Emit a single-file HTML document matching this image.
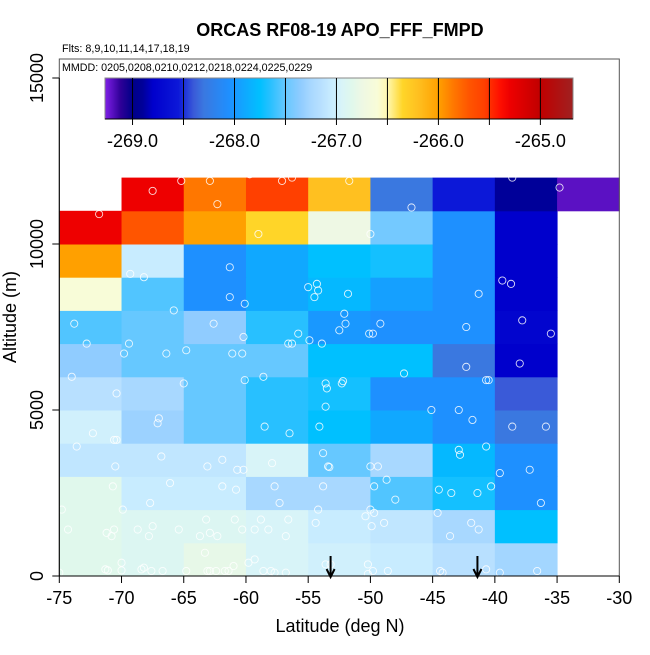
<!DOCTYPE html>
<html><head><meta charset="utf-8"><style>
html,body{margin:0;padding:0;background:#fff}
svg text{font-family:"Liberation Sans",Arial,sans-serif;fill:#000}
</style></head><body>
<svg id="chart" width="650" height="650" viewBox="0 0 650 650"></svg>
<script>
// ---- data ----
const latEdges = [-75,-70,-65,-60,-55,-50,-45,-40,-35,-30];
const altEdges = [0,1000,2000,3000,4000,5000,6000,7000,8000,9000,10000,11000,12000];
// rows from altitude 0-1000 (index 0) up to 11000-12000; null = no data
const cellValues = [
 [-266.85,-266.9,-266.8,-266.95,-267.0,-267.05,-267.15,-267.27,null],
 [-266.85,-266.9,-266.9,-266.95,-267.05,-267.1,-267.25,-267.75,null],
 [-266.85,-267.05,-267.05,-267.25,-267.25,-267.55,-267.7,-268.05,null],
 [-267.1,-267.1,-267.1,-266.95,-267.5,-267.25,-267.8,-268.05,null],
 [-267.0,-267.3,-267.5,-267.65,-267.75,-267.9,-268.05,-268.3,null],
 [-267.15,-267.25,-267.5,-267.65,-267.7,-268.05,-268.05,-268.4,null],
 [-267.35,-267.5,-267.5,-267.5,-267.75,-267.75,-268.3,-268.8,null],
 [-267.55,-267.5,-267.35,-267.65,-268.0,-268.05,-268.05,-268.75,null],
 [-266.6,-267.55,-268.05,-267.9,-267.8,-267.95,-268.05,-268.8,null],
 [-266.0,-267.05,-268.05,-267.9,-267.75,-267.7,-268.05,-268.8,null],
 [-265.3,-265.7,-266.0,-266.35,-266.75,-267.45,-268.05,-268.8,null],
 [null,-265.3,-265.85,-265.55,-266.2,-268.3,-268.55,-268.9,-269.2]
];
const pointLat = [-71.8,-67.5,-65.2,-62.9,-62.3,-59.7,-57.1,-56.3,-59.0,-51.7,-46.7,-38.6,-34.8,-50.0,
 -69.3,-68.2,-61.3,-61.3,-55,-54.3,-54.2,-54.5,-51.8,-41.3,-39.4,-38.7,
 -73.8,-72.8,-69.8,-69.4,-66.4,-65.8,-62.6,-64.8,-60.1,-60.2,-60.3,-61.1,-58.6,-55.8,-56.6,-56.3,-54.9,-53.9,-52.1,-52.5,-52.0,-50.1,-49.8,-49.2,-42.3,-37.8,-35.5,-42.3,-38,-40.7,-40.5,
 -74,-60.1,-65,-70.4,-53.6,-53.5,-52.3,-52.2,-53.6,-47.3,-45.1,-42.9,-41.8,-38.6,-35.9,-67.1,-67.0,-58.5,-56.5,-54.1,-72.3,-73.6,-70.6,-70.4,-66.8,
 -70.5,-63.1,-61.9,-60.7,-60.2,-57.9,-53.8,-53.4,-53.3,-50.0,-49.4,-48.7,-42.9,-42.8,-40.7,-39.6,-37.2,-41.9,
 -70.7,-66.1,-61.9,-60.8,-57.7,-57.3,-67.7,-53.8,-49.7,-48,-44.5,-43.5,-41.4,-40.3,-36.3,-69.9,
 -74.8,-74.3,-71.2,-70.8,-70.6,-68.7,-67.8,-67.5,-65.4,-63.2,-62.9,-63.7,-62.3,-60.9,-60.3,-59.3,-58.8,-58.2,-56.6,-56.8,-54.2,-54.4,-50,-49.7,-50.4,-49.9,-48.9,-44.6,-43.6,-41.3,
 -75,-71.3,-71.1,-70,-70,-68.4,-68.2,-67.6,-66.7,-64.8,-63.3,-63.1,-62.9,-62.4,-61.7,-61.4,-61.0,-59.8,-59.3,-58.6,-58.0,-57.7,-56.8,-53.6,-53.2,-50.2,-50.2,-49.8,-48.6,-44.4,-44.2,-40.7,-39.6,-36.6];
const pointAlt = [10900,11600,11900,11900,11200,12100,11900,12000,10300,11900,11100,12000,11700,10300,
 9100,9000,9300,8400,8700,8800,8600,8400,8500,8500,8900,8800,
 7600,7000,6700,7000,6700,8000,7600,6800,8200,7200,6700,6700,6000,7300,7000,7000,7100,7000,7900,7400,7600,7300,7300,7600,7500,7700,7300,6300,6400,5900,5900,
 6000,5900,5800,5500,5800,5650,5800,5870,5100,6100,5000,5000,4700,4500,4500,4600,4750,4500,4300,4500,4300,3900,4100,4100,3600,
 3300,3300,3500,3200,3200,3400,3700,3300,3280,3300,3300,2900,3800,3650,3900,3100,3200,1600,
 2700,2800,2700,2600,2700,2200,2200,2700,2700,2300,2600,2500,2500,2700,2200,2000,
 2000,1400,1300,1200,1400,1400,1200,1500,1400,1700,1300,1200,1200,1700,1400,1400,1700,1400,1700,1200,2000,1600,2000,1900,1800,1500,1600,1900,1200,1400,
 100,200,170,400,170,200,250,150,150,150,700,150,150,150,150,150,300,400,500,150,150,100,100,350,350,350,60,150,150,150,100,200,100,150];
const arrowLat = [-53.2,-41.4];
const cbarTicks = [-269.0,-268.0,-267.0,-266.0,-265.0];
const cbarTickLabels = ["-269.0","-268.0","-267.0","-266.0","-265.0"];
const cbarDividers = [-269.0,-268.5,-268.0,-267.5,-267.0,-266.5,-266.0,-265.5,-265.0];
const xTicks = [-75,-70,-65,-60,-55,-50,-45,-40,-35,-30];
const yTicks = [0,5000,10000,15000];

// ---- scales ----
const X0=59.3,X1=619.3,LAT0=-75,LAT1=-30;
const Y0=576,PX_PER_M=0.0332;
const xs = v => X0+(v-LAT0)*(X1-X0)/(LAT1-LAT0);
const ys = v => Y0-v*PX_PER_M;
const CB_L=105,CB_R=573,CB_V0=-269.27,CB_V1=-264.68;
const cbx = v => CB_L+(v-CB_V0)*(CB_R-CB_L)/(CB_V1-CB_V0);
const stops=[[-269.27,"#8020e8"],[-269.12,"#300098"],[-269.0,"#000088"],[-268.9,"#000099"],[-268.8,"#0000cc"],
[-268.55,"#0c18d8"],[-268.4,"#3a5ad8"],[-268.3,"#3a78e0"],[-268.05,"#1e90ff"],[-267.9,"#10a8ff"],[-267.75,"#00c0ff"],
[-267.65,"#28c0ff"],[-267.5,"#66c8ff"],[-267.35,"#90ccff"],[-267.25,"#a8d8ff"],[-267.15,"#b8e0ff"],[-267.05,"#c8ecff"],
[-266.95,"#d8f4f8"],[-266.85,"#e0f8ec"],[-266.75,"#eef8e4"],[-266.6,"#f8fcd8"],[-266.5,"#fff8b0"],[-266.35,"#ffd528"],
[-266.2,"#ffc020"],[-266.0,"#ffa000"],[-265.85,"#ff7700"],[-265.7,"#ff5500"],[-265.55,"#ff4000"],[-265.4,"#ff1000"],
[-265.3,"#ee0000"],[-265.0,"#c00000"],[-264.68,"#a02020"]];
function hex(c){return [1,3,5].map(i=>parseInt(c.substr(i,2),16));}
function color(v){
  if(v<=stops[0][0])return stops[0][1];
  for(let i=1;i<stops.length;i++){
    if(v<=stops[i][0]){
      const a=hex(stops[i-1][1]),b=hex(stops[i][1]);
      const t=(v-stops[i-1][0])/(stops[i][0]-stops[i-1][0]);
      return "rgb("+a.map((x,k)=>Math.round(x+(b[k]-x)*t)).join(",")+")";
    }
  }
  return stops[stops.length-1][1];
}

const svg=document.getElementById('chart');
const NS="http://www.w3.org/2000/svg";
function mk(tag,attrs,parent){const e=document.createElementNS(NS,tag);for(const k in attrs)e.setAttribute(k,attrs[k]);(parent||svg).appendChild(e);return e;}

// cells
const gCells=mk('g',{});


for(let r=0;r<cellValues.length;r++){
  for(let c=0;c<cellValues[r].length;c++){
    const v=cellValues[r][c]; if(v===null)continue;
    const x=xs(latEdges[c]),x2=xs(latEdges[c+1]),y=ys(altEdges[r+1]),y2=ys(altEdges[r]);
    const el=mk('rect',{x:x,y:y,width:x2-x+0.5,height:y2-y+0.5,fill:color(v)},gCells);
    
    
  }
}
// points
const gPts=mk('g',{fill:'none',stroke:'#ffffff','stroke-opacity':'0.85','stroke-width':'0.9'});


for(let i=0;i<pointLat.length;i++){
  const el=mk('circle',{cx:xs(pointLat[i]),cy:ys(pointAlt[i]),r:3.6},gPts);
  
  
}
// arrows
for(const a of arrowLat){
  const g=mk('g',{stroke:'#000','stroke-width':'2',fill:'none'});
  
  
  const x=xs(a);
  mk('line',{x1:x,y1:556,x2:x,y2:577},g);
  mk('polyline',{points:(x-4)+",569 "+x+",577 "+(x+4)+",569"},g);
}
// plot box
const box=mk('rect',{x:X0,y:59,width:X1-X0,height:Y0-59,fill:'none',stroke:'#555','stroke-width':'1'});


// x axis
const gx=mk('g',{});


mk('line',{x1:X0,y1:Y0,x2:X1,y2:Y0,stroke:'#000'},gx);
for(const t of xTicks){
  mk('line',{x1:xs(t),y1:Y0,x2:xs(t),y2:Y0+7,stroke:'#000'},gx);
  const tx=mk('text',{x:xs(t),y:604,'text-anchor':'middle','font-size':'18'},gx);
  tx.textContent=t;
  
  
}
// y axis
const gy=mk('g',{});


mk('line',{x1:X0,y1:ys(0),x2:X0,y2:ys(15000),stroke:'#000'},gy);
for(const t of yTicks){
  mk('line',{x1:X0,y1:ys(t),x2:X0-7,y2:ys(t),stroke:'#000'},gy);
  const tx=mk('text',{x:0,y:0,'text-anchor':'middle','font-size':'18',transform:'translate(43,'+ys(t)+') rotate(-90)'},gy);
  tx.textContent=t;
  
  
}
// colorbar
const gcb=mk('g',{});


for(let px=CB_L;px<CB_R;px+=1){
  const v=CB_V0+(px+0.5-CB_L)*(CB_V1-CB_V0)/(CB_R-CB_L);
  mk('rect',{x:px,y:78,width:1.3,height:41,fill:color(v)},gcb);
}
mk('rect',{x:CB_L,y:78,width:CB_R-CB_L,height:41,fill:'none',stroke:'#888','stroke-width':'1'},gcb);
mk('line',{x1:CB_L,y1:119,x2:CB_R,y2:119,stroke:'#000'},gcb);
for(const d of cbarDividers){mk('line',{x1:cbx(d),y1:78,x2:cbx(d),y2:125,stroke:'#000','stroke-width':'1'},gcb);}
cbarTicks.forEach((t,i)=>{
  const tx=mk('text',{x:cbx(t),y:147,'text-anchor':'middle','font-size':'18'},gcb);
  tx.textContent=cbarTickLabels[i];
  
  
});
</script>
<script>
const s=document.getElementById('chart');
function addText(name,x,y,txt,size,extra){
  const e=document.createElementNS("http://www.w3.org/2000/svg",'text');
  e.setAttribute('x',x);e.setAttribute('y',y);e.setAttribute('font-size',size);
  for(const k in (extra||{}))e.setAttribute(k,extra[k]);
  e.textContent=txt;
  
  
  s.appendChild(e);
}
addText('chart-title',340,36,'ORCAS RF08-19 APO_FFF_FMPD',18,{'text-anchor':'middle','font-weight':'bold'});
addText('flights-note',62,52,'Flts: 8,9,10,11,14,17,18,19',10.8);
addText('dates-note',62,71,'MMDD: 0205,0208,0210,0212,0218,0224,0225,0229',10.7);
addText('x-axis-title',340,632,'Latitude (deg N)',18,{'text-anchor':'middle'});
addText('y-axis-title',0,0,'Altitude (m)',18,{'text-anchor':'middle','transform':'translate(16,317) rotate(-90)'});
</script>
</body></html>
